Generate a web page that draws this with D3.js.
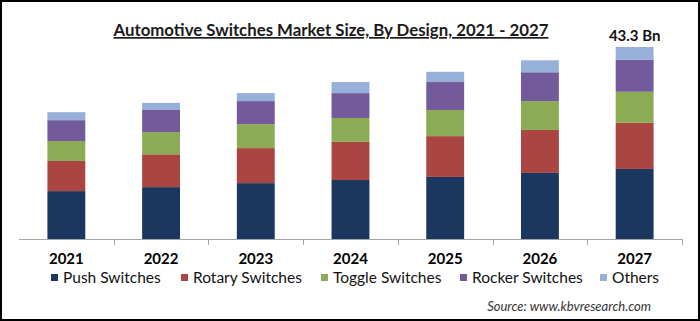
<!DOCTYPE html>
<html><head><meta charset="utf-8">
<script src="https://cdn.jsdelivr.net/npm/d3@7"></script>
<style>
html,body{margin:0;padding:0;background:#fff;}
svg{display:block;}
text{font-family:Lato,"Open Sans",sans-serif;}
</style></head>
<body>
<svg id="c" width="700" height="321"></svg>
<script>
const years = ["2021","2022","2023","2024","2025","2026","2027"];
const seriesNames = ["Push Switches","Rotary Switches","Toggle Switches","Rocker Switches","Others"];
const pushSwitches   = [10.8, 11.7, 12.6, 13.3, 14.0, 14.9, 15.8];
const rotarySwitches = [6.8, 7.4, 7.9, 8.6, 9.2, 9.7, 10.4];
const toggleSwitches = [4.5, 5.0, 5.4, 5.4, 5.9, 6.5, 7.0];
const rockerSwitches = [4.7, 5.0, 5.2, 5.6, 6.3, 6.5, 7.2];
const others         = [1.8, 1.6, 1.8, 2.5, 2.3, 2.7, 2.9];
const colors = ["#1b365f","#ab4542","#8bab55","#735a9b","#97b0d9"];
const titleText = "Automotive Switches Market Size, By Design, 2021 - 2027";
const totalLabel = "43.3 Bn";
const sourceText = "Source: www.kbvresearch.com";

const svg = d3.select("#c");
const W = 700, H = 321;

svg.append("rect").attr("x",1).attr("y",1).attr("width",W-2).attr("height",H-2)
  .attr("fill","#fff").attr("stroke","#000").attr("stroke-width",2);

const data = years.map((y,i)=>({year:y,
  "Push Switches":pushSwitches[i],"Rotary Switches":rotarySwitches[i],
  "Toggle Switches":toggleSwitches[i],"Rocker Switches":rockerSwitches[i],"Others":others[i]}));
const stack = d3.stack().keys(seriesNames)(data);

const x = d3.scaleBand().domain(years).range([19,682]).paddingInner(0.6).paddingOuter(0.3);
const y = d3.scaleLinear().domain([0,43.3]).range([239,47]);
const color = d3.scaleOrdinal().domain(seriesNames).range(colors);

svg.append("g").selectAll("g").data(stack).join("g")
  .attr("fill",d=>color(d.key))
  .selectAll("rect").data(d=>d).join("rect")
  .attr("x",d=>x(d.data.year))
  .attr("width",x.bandwidth())
  .attr("y",d=>y(d[1]))
  .attr("height",d=>y(d[0])-y(d[1]));

// axis line and ticks
const step = x.step();
const axisG = svg.append("g");
axisG.append("line").attr("x1",19).attr("x2",682).attr("y1",239.5).attr("y2",239.5)
  .attr("stroke","#a6a6a6").attr("stroke-width",1);
const bounds = years.map((yr)=>x(yr)+x.bandwidth()/2+step/2);
axisG.selectAll("line.t").data(bounds).join("line").attr("class","t")
  .attr("x1",d=>Math.round(d)+0.5).attr("x2",d=>Math.round(d)+0.5)
  .attr("y1",239).attr("y2",245).attr("stroke","#a6a6a6");

svg.append("g").selectAll("text").data(years).join("text")
  .attr("x",d=>x(d)+x.bandwidth()/2).attr("y",264)
  .attr("text-anchor","middle").attr("font-size",15).attr("font-weight","bold")
  .attr("fill","#000").text(d=>d);

// title
svg.append("text").attr("x",331).attr("y",36).attr("text-anchor","middle")
  .attr("font-size",16.8).attr("font-weight","bold").attr("fill","#1a1a1a")
  .attr("text-decoration","underline").text(titleText);

// total label
const last = years[years.length-1];
const lastTotal = stack[stack.length-1][years.length-1][1];
svg.append("text").attr("x",x(last)+x.bandwidth()/2).attr("y",y(lastTotal)-6)
  .attr("text-anchor","middle").attr("font-size",15).attr("font-weight","bold")
  .attr("fill","#111").text(totalLabel);

// legend
const legendX = [51,181,321,460,600];
const lg = svg.append("g").selectAll("g").data(seriesNames).join("g")
  .attr("transform",(d,i)=>`translate(${legendX[i]},278)`);
lg.append("rect").attr("x",0).attr("y",-4).attr("width",7).attr("height",7).attr("fill",d=>color(d));
lg.append("text").attr("x",12).attr("y",5).attr("font-size",15.5).attr("fill","#111").text(d=>d);

// source
svg.append("text").attr("x",651).attr("y",311).attr("text-anchor","end")
  .attr("font-size",13).attr("font-style","italic").attr("fill","#333").text(sourceText);
</script>
</body></html>
